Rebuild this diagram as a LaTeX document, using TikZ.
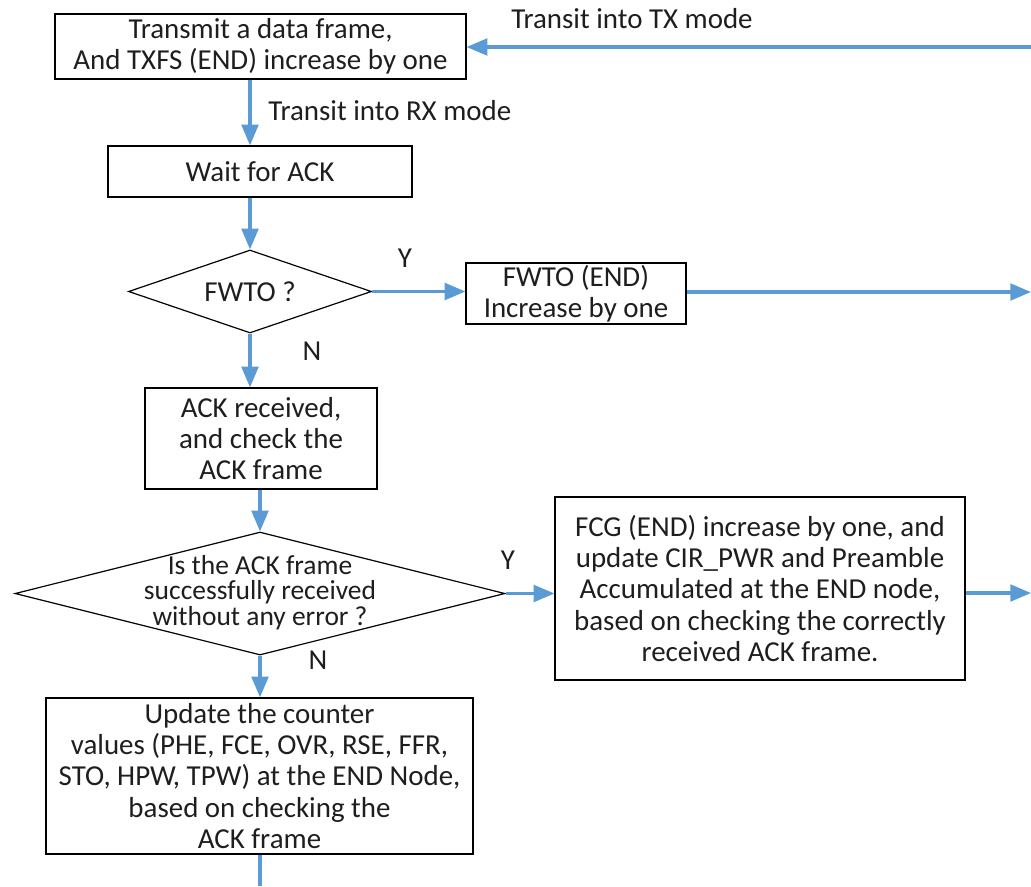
\documentclass[tikz,border=0pt]{standalone}
\usepackage{fontspec}
\setmainfont{Carlito}
\usetikzlibrary{shapes.geometric,arrows.meta}
\definecolor{flowblue}{HTML}{5B9BD5}
\definecolor{inkgray}{HTML}{1E1E1E}
\begin{document}
\begin{tikzpicture}[x=0.75pt,y=-0.75pt,
  box/.style={draw=black,line width=0.9pt,align=center,inner sep=0pt,
    font=\fontsize{21.7}{23.5}\selectfont,text=inkgray},
  dec/.style={draw=black,line width=0.9pt,diamond,inner sep=0pt},
  flow/.style={draw=flowblue,line width=2.3pt,-{Triangle[length=15.5pt,width=12.5pt]}},
  flowline/.style={draw=flowblue,line width=2.3pt},
  lbl/.style={font=\fontsize{21.7}{23.5}\selectfont,inner sep=0pt,text=inkgray},
  dectext/.style={align=center,inner sep=0pt,font=\fontsize{20.6}{19.2}\selectfont,text=inkgray},
]
\useasboundingbox (0,0) rectangle (1031,886);

% process boxes
\node[box,minimum width=308.25pt,minimum height=48.75pt] (b1) at (260.5,46.5)
  {Transmit a data frame,\\And TXFS (END) increase by one};
\node[box,minimum width=228pt,minimum height=38.25pt] (b2) at (260,171.5)
  {Wait for ACK};
\node[box,minimum width=165pt,minimum height=45.75pt] (b3) at (576,293.5)
  {FWTO (END)\\Increase by one};
\node[box,minimum width=174pt,minimum height=75.75pt] (b4) at (261,438.5)
  {ACK received,\\and check the\\ACK frame};
\node[box,minimum width=307.5pt,minimum height=137.25pt] (b5) at (760,588.5)
  {FCG (END) increase by one, and\\update CIR\_PWR and Preamble\\Accumulated at the END node,\\based on checking the correctly\\received ACK frame.};
\node[box,minimum width=320.25pt,minimum height=117pt] (b6) at (259.5,776)
  {Update the counter\\values (PHE, FCE, OVR, RSE, FFR,\\STO, HPW, TPW) at the END Node,\\based on checking the\\ACK frame};

% decisions
\node[dec,minimum width=182.25pt,minimum height=62.25pt] (d1) at (250,291.5) {};
\node[lbl] (d1t) at (d1) {FWTO ?};
\node[dec,minimum width=367.5pt,minimum height=92.25pt] (d2) at (260,593.5) {};
\node[dectext] (d2t) at (260,592.5)
  {Is the ACK frame\\successfully received\\without any error ?};

% connector labels
\node[lbl,anchor=west] (ltx) at (511,19) {Transit into TX mode};
\node[lbl,anchor=west] (lrx) at (268,111) {Transit into RX mode};
\node[lbl] (y1) at (405,258) {Y};
\node[lbl] (n1) at (312,351) {N};
\node[lbl] (y2) at (508,560) {Y};
\node[lbl] (n2) at (318,660) {N};

% connectors
\coordinate (txin) at (1031,47);
\coordinate (fwtoout) at (1031,292);
\coordinate (fcgout) at (1031,593);
\coordinate (tail) at (260,886);

\draw[flow] (txin) -- (b1.east |- txin);
\draw[flow] (b1.south -| d1) -- (b2.north -| d1);
\draw[flow] (b2.south -| d1) -- (d1.north);
\draw[flow] (d1.east) -- (b3.west |- d1.east);
\draw[flow] (b3.east |- fwtoout) -- (fwtoout);
\draw[flow] (d1.south) -- (b4.north -| d1);
\draw[flow] (b4.south -| d2) -- (d2.north);
\draw[flow] (d2.east) -- (b5.west |- d2.east);
\draw[flow] (b5.east |- fcgout) -- (fcgout);
\draw[flow] (d2.south) -- (b6.north -| d2);
\draw[flowline] (b6.south -| d2) -- (tail);
\end{tikzpicture}
\end{document}
